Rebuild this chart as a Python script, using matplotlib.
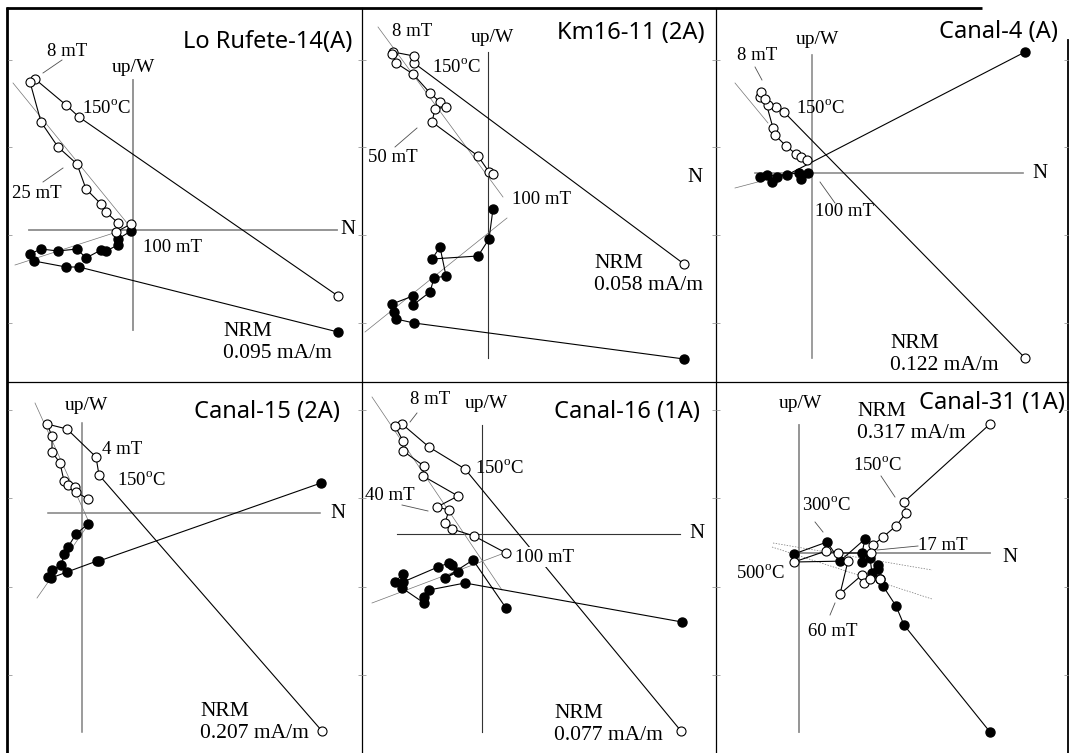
import matplotlib
matplotlib.use("Agg")
import matplotlib.pyplot as plt

plt.rcParams["mathtext.fontset"] = "custom"
plt.rcParams["mathtext.rm"] = "Liberation Serif"

SERIF = "Liberation Serif"
SANS = "Noto Sans"
W, H = 1070, 753

# orthogonal projections: x = N component, y = up (open) / W (filled), arbitrary units
rf14_open_x = [205, -54, -67, -98, -103, -92, -75, -56, -47, -32, -27, -15, -17, -2]
rf14_open_y = [-66, 113, 125, 151, 148, 108, 83, 66, 41, 26, 18, 7, -2, 6]
rf14_fill_x = [205, -54, -67, -99, -103, -92, -75, -56, -47, -32, -27, -15, -15, -2]
rf14_fill_y = [-102, -37, -37, -31, -24, -19, -21, -19, -28, -20, -21, -15, -9, -1]

km_open_x = [196, -74, -74, -95, -96, -92, -75, -58, -48, -42, -53, -56, -10, 1, 5]
km_open_y = [-86, 115, 122, 126, 124, 115, 104, 85, 76, 71, 69, 56, 22, 6, 4]
km_fill_x = [196, -74, -92, -94, -96, -75, -75, -58, -54, -42, -48, -56, -10, 1, 5]
km_fill_y = [-181, -145, -141, -134, -126, -118, -127, -114, -100, -98, -69, -81, -78, -61, -31]

c4_open_x = [213, -28, -36, -44, -52, -51, -47, -39, -37, -26, -16, -11, -5]
c4_open_y = [-185, 61, 66, 68, 76, 81, 74, 45, 38, 27, 19, 16, 13]
c4_fill_x = [213, -25, -35, -40, -45, -52, -13, -11, -4]
c4_fill_y = [121, -2, -4, -9, -2, -4, 0, -6, 0]

c15_open_x = [240, 17, 14, -15, -35, -30, -30, -22, -18, -14, -7, -6, 6]
c15_open_y = [-218, 38, 56, 84, 89, 77, 61, 50, 32, 28, 26, 21, 14]
c15_fill_x = [239, 17, 15, -15, -31, -34, -30, -21, -18, -14, -6, 6]
c15_fill_y = [30, -48, -48, -59, -65, -64, -57, -52, -41, -34, -21, -11]

c16_open_x = [199, -17, -53, -80, -87, -79, -79, -58, -59, -24, -45, -33, -37, -30, -8, 24]
c16_open_y = [-197, 65, 87, 110, 108, 93, 83, 68, 58, 38, 27, 24, 11, 5, -2, -19]
c16_fill_x = [200, -17, -53, -58, -58, -80, -87, -79, -79, -44, -33, -30, -24, -37, -9, 24]
c16_fill_y = [-88, -49, -56, -63, -69, -54, -48, -40, -48, -33, -29, -31, -38, -44, -26, -74]

c31_open_x = [191, 105, 107, 97, 84, 74, 72, 39, 27, -5, 49, 41, 63, 65, 71, 81]
c31_open_y = [129, 51, 40, 27, 16, 8, 0, 0, 2, -9, -8, -41, -22, -30, -26, -26]
c31_fill_x = [191, 105, 97, 84, 81, 79, 79, 73, 71, 63, 63, 66, 41, 28, -5]
c31_fill_y = [-179, -72, -53, -33, -26, -16, -12, -20, -5, -9, 0, 14, -8, 11, -1]

titles = ["Lo Rufete-14(A)", "Km16-11 (2A)", "Canal-4 (A)",
          "Canal-15 (2A)", "Canal-16 (1A)", "Canal-31 (1A)"]
nrm_text = ["0.095 mA/m", "0.058 mA/m", "0.122 mA/m",
            "0.207 mA/m", "0.077 mA/m", "0.317 mA/m"]

DEG = r"$^{\rm o}$C"

panels = [
    dict(box=(8, 362, 8, 382), origin=(133, 230), data=(rf14_open_x, rf14_open_y, rf14_fill_x, rf14_fill_y),
         vax=(150, -100), hax=(-104, 204), axc=("0.55", 1.3), n_pos=(215, 0), upw=(0, 162),
         title_pos=(219, 188), nrm_pos=(90, -112),
         labels=[("8 mT", -66, 178, "center"), ("150" + DEG, -51, 122, "left"),
                 ("25 mT", -96, 37, "center"), ("100 mT", 10, -18, "left")],
         leaders=[((-90, 157), (-71, 170)), ((-90, 48), (-70, 62))],
         fits=[((-120, 147), (-6, 7)), ((-118, -35), (-10, 0))], fit_style="-"),
    dict(box=(362, 716, 8, 382), origin=(488, 178), data=(km_open_x, km_open_y, km_fill_x, km_fill_y),
         vax=(126, -180), hax=None, axc=("0.2", 0.8), n_pos=(207, 0), upw=(4, 141),
         title_pos=(217, 145), nrm_pos=(106, -96),
         labels=[("8 mT", -76, 146, "center"), ("150" + DEG, -56, 111, "left"),
                 ("50 mT", -95, 21, "center"), ("100 mT", 24, -22, "left")],
         leaders=[((-93, 31), (-71, 50))],
         fits=[((-110, 151), (15, -19)), ((-123, -154), (19, -40))], fit_style="-"),
    dict(box=(716, 1068, 8, 382), origin=(812, 173), data=(c4_open_x, c4_open_y, c4_fill_x, c4_fill_y),
         vax=(118, -185), hax=(-57, 211), axc=("0.55", 1.2), n_pos=(228, 0), upw=(5, 133),
         title_pos=(246, 141), nrm_pos=(78, -182),
         labels=[("8 mT", -55, 118, "center"), ("150" + DEG, -16, 65, "left"),
                 ("100 mT", 3, -39, "left")],
         leaders=[((-57, 106), (-50, 93)), ((8, -9), (23, -30))],
         fits=[((-77, 90), (-44, 50)), ((-77, -15), (-24, -1))], fit_style="-"),
    dict(box=(8, 362, 382, 753), origin=(82, 513), data=(c15_open_x, c15_open_y, c15_fill_x, c15_fill_y),
         vax=(90, -219), hax=(-34, 238), axc=("0.5", 1.1), n_pos=(256, 0), upw=(4, 108),
         title_pos=(258, 101), nrm_pos=(118, -210),
         labels=[("4 mT", 20, 63, "left"), ("150" + DEG, 35, 33, "left")],
         leaders=[],
         fits=[((-47, 110), (6, -7)), ((-45, -85), (6, -12))], fit_style="-"),
    dict(box=(362, 716, 382, 753), origin=(482, 534), data=(c16_open_x, c16_open_y, c16_fill_x, c16_fill_y),
         vax=(109, -198), hax=(-85, 198), axc=("0.2", 0.8), n_pos=(215, 0), upw=(4, 131),
         title_pos=(218, 122), nrm_pos=(72, -190),
         labels=[("8 mT", -52, 134, "center"), ("150" + DEG, -7, 66, "left"),
                 ("40 mT", -92, 39, "center"), ("100 mT", 33, -23, "left")],
         leaders=[((-72, 112), (-65, 121)), ((-80, 29), (-54, 23))],
         fits=[((-110, 137), (20, -56)), ((-110, -69), (25, -18))], fit_style="-"),
    dict(box=(716, 1068, 382, 753), origin=(799, 553), data=(c31_open_x, c31_open_y, c31_fill_x, c31_fill_y),
         vax=(128, -179), hax=(0, 191), axc=("0.55", 1.3), n_pos=(211, -4), upw=(1, 150),
         title_pos=(266, 150), nrm_pos=(58, 131),
         labels=[("150" + DEG, 54, 88, "left"), ("300" + DEG, 3, 48, "left"),
                 ("17 mT", 119, 8, "left"), ("500" + DEG, -63, -20, "left"),
                 ("60 mT", 9, -79, "left")],
         leaders=[((82, 77), (96, 56)), ((16, 31), (24, 21)), ((78, 3), (119, 7)), ((31, -62), (36, -50))],
         fits=[((-26, 10), (133, -17)), ((-27, 6), (133, -46))], fit_style=(0, (2, 2))),
]

border_ticks = {8: [60, 147, 235, 323], 382: [410, 498, 587, 675]}

fig = plt.figure(figsize=(W / 100, H / 100), dpi=100)

# outer frame and panel dividers, in pixel units
frame = fig.add_axes([0, 0, 1, 1])
frame.set_xlim(0, W)
frame.set_ylim(H, 0)
frame.axis("off")
frame.plot([6, 982], [8, 8], color="k", lw=2.0, solid_capstyle="butt")
frame.plot([7, 7], [7, H], color="k", lw=2.0, solid_capstyle="butt")
frame.plot([1068, 1068], [40, H], color="k", lw=1.3)
frame.plot([8, 1068], [382, 382], color="k", lw=0.9)
frame.plot([362, 362], [8, H], color="k", lw=0.9)
frame.plot([716, 716], [8, H], color="k", lw=0.9)


def draw_panel(p, title, nrm):
    left, right, top, bottom = p["box"]
    ox, oy = p["origin"]
    ax = fig.add_axes([left / W, 1 - bottom / H, (right - left) / W, (bottom - top) / H])
    ax.set_xlim(left - ox, right - ox)
    ax.set_ylim(oy - bottom, oy - top)
    ax.patch.set_visible(False)
    for s in ax.spines.values():
        s.set_visible(False)
    ax.set_xticks([])
    ax.set_yticks([oy - t for t in border_ticks[top]])
    ax.tick_params(axis="y", direction="in", length=3, width=0.6, color="0.6",
                   left=True, right=True, labelleft=False)

    col, lw = p["axc"]
    ax.plot([0, 0], p["vax"], color=col, lw=lw, zorder=1)
    if p["hax"] is not None:
        ax.plot(p["hax"], [0, 0], color=col, lw=lw, zorder=1)

    for (x0, y0), (x1, y1) in p["fits"]:
        ax.plot([x0, x1], [y0, y1], color="0.45", lw=0.5, ls=p["fit_style"], zorder=2)
    for (x0, y0), (x1, y1) in p["leaders"]:
        ax.plot([x0, x1], [y0, y1], color="0.3", lw=0.6, zorder=2)

    ox_, oy_, fx, fy = p["data"]
    ax.plot(fx, fy, "-o", color="k", lw=0.8, ms=6.5, mfc="k", mec="k", zorder=3)
    ax.plot(ox_, oy_, "-o", color="k", lw=0.8, ms=6.5, mfc="white", mec="k", mew=0.8, zorder=4)

    ax.text(p["upw"][0], p["upw"][1], "up/W", family=SERIF, fontsize=14, ha="center", va="center")
    ax.text(p["n_pos"][0], p["n_pos"][1], "N", family=SERIF, fontsize=15, ha="center", va="center")
    ax.text(p["title_pos"][0], p["title_pos"][1], title, family=SANS, fontsize=17,
            ha="right", va="center")
    nx, ny = p["nrm_pos"]
    ax.text(nx, ny + 11, "NRM", family=SERIF, fontsize=15.5, ha="left", va="center")
    ax.text(nx, ny - 11, nrm, family=SERIF, fontsize=15.5, ha="left", va="center")
    for txt, x, y, ha in p["labels"]:
        t = ax.text(x, y, txt, family=SERIF, fontsize=13.5, ha=ha, va="center", zorder=5)
        if txt == "100 mT" and title.startswith("Canal-16"):
            t.set_bbox(dict(facecolor="white", edgecolor="none", pad=1))


for p, title, nrm in zip(panels, titles, nrm_text):
    draw_panel(p, title, nrm)

fig.savefig("out.png", dpi=100)
